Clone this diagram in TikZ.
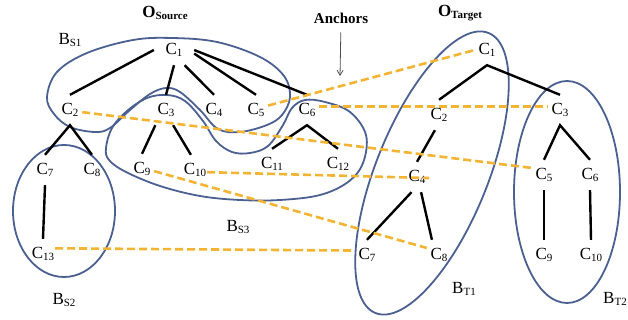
\documentclass[tikz,border=0pt]{standalone}
\usepackage{fontspec}
\setmainfont{Liberation Serif}
\usetikzlibrary{arrows.meta}
\definecolor{blob}{RGB}{75,95,145}
\definecolor{anch}{RGB}{242,180,50}
\newcommand\lbl[2]{#1\raisebox{-2.5pt}{\fontsize{11}{11}\selectfont #2}}
\newcommand\olbl[2]{\textbf{#1\raisebox{-2.5pt}{\fontsize{11}{11}\selectfont\bfseries #2}}}
\begin{document}
\begin{tikzpicture}[x=1pt,y=-1pt,
  lab/.style={inner sep=0pt, minimum width=24pt, minimum height=30pt, font=\fontsize{17}{17}\selectfont},
  txt/.style={inner sep=0pt, font=\fontsize{17}{17}\selectfont},
  tree/.style={line width=2.4pt, black},
  anc/.style={line width=2.6pt, anch, dash pattern=on 8pt off 4pt},
  bnd/.style={line width=1.8pt, blob},
]
\useasboundingbox (0,0) rectangle (628,320);

% boundaries
\draw[bnd] plot[smooth cycle, tension=0.6] coordinates {
  (47,97) (57,72) (87,53) (133,40) (172,38) (217,42) (260,57) (284,76) (290,97)
  (282,115) (267,125) (240,132) (218,129) (200,110) (180,92) (166,88) (150,94)
  (130,110) (110,128) (95,132) (70,127) (54,114)};
\draw[bnd] plot[smooth cycle, tension=0.6] coordinates {
  (106,148) (112,128) (127,111) (147,98) (167,95) (185,101) (203,121) (216,141)
  (232,152) (250,153) (268,146) (283,125) (292,108) (305,100) (325,102) (350,112)
  (366,135) (363,163) (348,182) (320,195) (280,200) (240,200) (200,196) (160,186)
  (126,172) (109,160)};
\draw[bnd] (64,211) ellipse [x radius=51pt, y radius=66pt];
\draw[bnd, rotate around={68:(432,173)}] (432,173) ellipse [x radius=151pt, y radius=56pt];
\draw[bnd] (567,192) ellipse [x radius=53pt, y radius=111pt];

% titles
\node[txt] (osrc) at (165,13) {\olbl{O}{Source}};
\node[txt] (otgt) at (460,13) {\olbl{O}{Target}};
\node[inner sep=0pt, font=\fontsize{15}{15}\selectfont\bfseries] (anchors) at (341,18) {Anchors};
\coordinate (anctip) at (340,76);
\draw[-{Straight Barb[length=5pt,width=6pt]}, line width=0.8pt, black!70, shorten <=9pt] (anchors.south) -- (anctip);

% block labels
\node[txt] (bs1) at (70,40) {\lbl{B}{S1}};
\node[txt] (bs2) at (64,300) {\lbl{B}{S2}};
\node[txt] (bs3) at (238,227) {\lbl{B}{S3}};
\node[txt] (bt1) at (464,289) {\lbl{B}{T1}};
\node[txt] (bt2) at (615,299) {\lbl{B}{T2}};

% source nodes
\node[lab, minimum width=40pt] (s1) at (174,50) {\lbl{C}{1}};
\node[lab] (s2) at (70,110) {\lbl{C}{2}};
\node[lab] (s3) at (166,110) {\lbl{C}{3}};
\node[lab] (s4) at (214,110) {\lbl{C}{4}};
\node[lab] (s5) at (256,110) {\lbl{C}{5}};
\node[lab] (s6) at (307,110) {\lbl{C}{6}};
\node[lab] (s7) at (45,170) {\lbl{C}{7}};
\node[lab] (s8) at (92,170) {\lbl{C}{8}};
\node[lab] (s9) at (142,169) {\lbl{C}{9}};
\node[lab] (s10) at (195,170) {\lbl{C}{10}};
\node[lab] (s11) at (272,164) {\lbl{C}{11}};
\node[lab] (s12) at (338,164) {\lbl{C}{12}};
\node[lab] (s13) at (43,254) {\lbl{C}{13}};

% target nodes
\node[lab] (t1) at (487,50) {\lbl{C}{1}};
\node[lab] (t2) at (439,115) {\lbl{C}{2}};
\node[lab] (t3) at (560,110) {\lbl{C}{3}};
\node[lab] (t4) at (417,177) {\lbl{C}{4}};
\node[lab] (t5) at (544,175) {\lbl{C}{5}};
\node[lab] (t6) at (590,175) {\lbl{C}{6}};
\node[lab] (t7) at (367,255) {\lbl{C}{7}};
\node[lab] (t8) at (439,255) {\lbl{C}{8}};
\node[lab] (t9) at (544,255) {\lbl{C}{9}};
\node[lab] (t10) at (591,255) {\lbl{C}{10}};

% source tree
\draw[tree] (s1.west) -- (s2.north);
\draw[tree] (s1.south) -- (s3.north);
\draw[tree] (s1.-55) -- (s4.north);
\draw[tree] (s1.-10) -- (s5.north);
\draw[tree] (s1.east) -- (s6.north);
\draw[tree] (s7.north) -- (s2.south) -- (s8.north);
\draw[tree] (s7.south) -- (s13.north);
\draw[tree] (s3.-125) -- (s9.north);
\draw[tree] (s3.-65) -- (s10.105);
\draw[tree] (s11.north) -- (s6.south) -- (s12.north);

% target tree
\draw[tree] (t2.north) -- (t1.south) -- (t3.north);
\draw[tree] (t2.-105) -- (t4.north);
\draw[tree] (t4.-110) -- (t7.north);
\draw[tree] (t4.-75) -- (t8.115);
\draw[tree] (t5.north) -- (t3.south) -- (t6.north);
\draw[tree] (t5.south) -- (t9.north);
\draw[tree] (t6.south) -- (t10.north);

% anchors
\draw[anc] (s5.20) -- (t1.west);
\draw[anc] (s6.15) -- (t3.165);
\draw[anc] (s2.-10) -- (t5.150);
\draw[anc] (s10.-10) -- (t4.-5);
\draw[anc] (s9.-10) -- (t8.150);
\draw[anc] (s13.25) -- (t7.160);
\end{tikzpicture}
\end{document}
